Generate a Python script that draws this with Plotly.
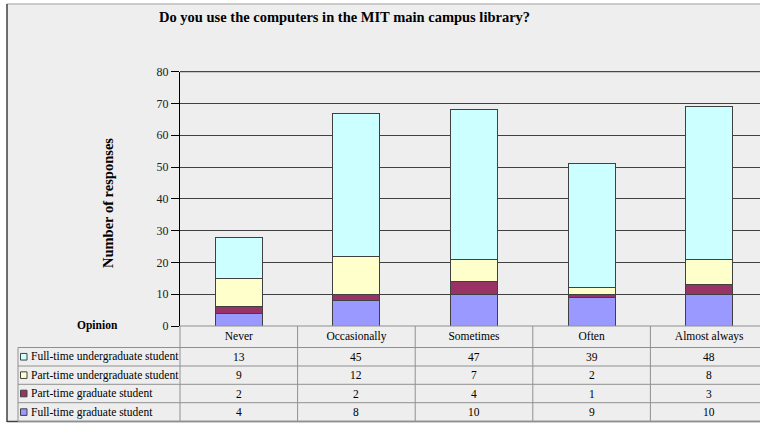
import plotly.graph_objects as go

categories = ["Never", "Occasionally", "Sometimes", "Often", "Almost always"]
ft_undergrad = [13, 45, 47, 39, 48]
pt_undergrad = [9, 12, 7, 2, 8]
pt_grad = [2, 2, 4, 1, 3]
ft_grad = [4, 8, 10, 9, 10]

series_names = ["Full-time undergraduate student", "Part-time undergraduate student",
                "Part-time graduate student", "Full-time graduate student"]
series_values = [ft_undergrad, pt_undergrad, pt_grad, ft_grad]
series_colors = ["#CCFFFF", "#FFFFCC", "#993366", "#9999FF"]

y_ticks = [0, 10, 20, 30, 40, 50, 60, 70, 80]

W, H = 760, 423
FONT = "Liberation Serif"
TS = 11.5


def px(x):
    return x / W


def py(y):
    return 1 - y / H


# geometry (pixels)
plot_left, plot_top, plot_bottom = 180, 71.7, 326
col_w = 117.6
row_lines = [326, 347.5, 366, 384.3, 402.7, 421.5]
table_left = 18
x_range = [-0.5, -0.5 + (W - plot_left) / col_w]
y_range = [0, 80]

fig = go.Figure()
# stack bottom to top
for name, vals, col in reversed(list(zip(series_names, series_values, series_colors))):
    fig.add_trace(go.Bar(
        x=list(range(len(categories))), y=vals, name=name,
        marker=dict(color=col, line=dict(color="#404040", width=1)),
        width=0.4, showlegend=False, hoverinfo="skip",
    ))

# category header row of the data table (on a hidden helper axis covering the header row)
fig.add_trace(go.Scatter(
    x=list(range(len(categories))), y=[0.5] * len(categories), yaxis="y2",
    mode="text", text=categories, textposition="middle center", cliponaxis=False,
    textfont=dict(family=FONT, size=TS, color="black"), showlegend=False, hoverinfo="skip",
))

shapes = []
annotations = []

# outer frame
shapes.append(dict(type="rect", xref="paper", yref="paper", x0=px(7), x1=px(W + 5), y0=py(421.5), y1=py(4),
                   fillcolor="#EEEEEE", line=dict(width=0), layer="below"))
shapes.append(dict(type="line", xref="paper", yref="paper", x0=px(7), x1=px(W + 5), y0=py(4), y1=py(4),
                   line=dict(color="#BBBBBB", width=1.5)))
shapes.append(dict(type="line", xref="paper", yref="paper", x0=px(7), x1=px(7), y0=py(4), y1=py(422),
                   line=dict(color="#404040", width=1.5)))
shapes.append(dict(type="line", xref="paper", yref="paper", x0=px(7), x1=px(W + 5), y0=py(421.5), y1=py(421.5),
                   line=dict(color="#404040", width=1.5)))

# top gridline at 80
shapes.append(dict(type="line", xref="paper", yref="paper", x0=px(plot_left), x1=1, y0=py(plot_top), y1=py(plot_top),
                   line=dict(color="#202020", width=1)))

tbl_color = "#909090"
# table horizontal lines
for i, yl in enumerate(row_lines):
    x0 = plot_left if i == 0 else table_left
    shapes.append(dict(type="line", xref="paper", yref="paper", x0=px(x0), x1=1, y0=py(yl), y1=py(yl),
                       line=dict(color=tbl_color, width=1)))
# table vertical lines
shapes.append(dict(type="line", xref="paper", yref="paper", x0=px(table_left), x1=px(table_left),
                   y0=py(row_lines[1]), y1=py(row_lines[-1]), line=dict(color=tbl_color, width=1)))
for i in range(len(categories)):
    xl = plot_left + i * col_w
    shapes.append(dict(type="line", xref="paper", yref="paper", x0=px(xl), x1=px(xl),
                       y0=py(row_lines[0]), y1=py(row_lines[-1]), line=dict(color=tbl_color, width=1)))

# rows
for r, (name, vals, col) in enumerate(zip(series_names, series_values, series_colors)):
    yc = (row_lines[r + 1] + row_lines[r + 2]) / 2
    shapes.append(dict(type="rect", xref="paper", yref="paper", x0=px(20.5), x1=px(27), y0=py(yc + 3.3),
                       y1=py(yc - 3.3), fillcolor=col, line=dict(color="#404040", width=1)))
    annotations.append(dict(text=name, xref="paper", yref="paper", x=px(28.5), y=py(yc), showarrow=False,
                            font=dict(family=FONT, size=TS, color="black"), xanchor="left", yanchor="middle"))
    for i, v in enumerate(vals):
        annotations.append(dict(text=str(v), xref="x", yref="paper", x=i, y=py(yc), showarrow=False,
                                font=dict(family=FONT, size=TS, color="black"),
                                xanchor="center", yanchor="middle"))

# title, axis title, "Opinion"
annotations.append(dict(text="<b>Do you use the computers in the MIT main campus library?</b>", xref="paper",
                        yref="paper", x=px(344), y=py(17), showarrow=False,
                        font=dict(family=FONT, size=14.5, color="black"), xanchor="center", yanchor="middle"))
annotations.append(dict(text="<b>Number of responses</b>", xref="paper", yref="paper", x=px(108), y=py(203),
                        showarrow=False, textangle=-90, font=dict(family=FONT, size=14.5, color="black"),
                        xanchor="center", yanchor="middle"))
annotations.append(dict(text="<b>Opinion</b>", xref="paper", yref="paper", x=px(97), y=py(325),
                        showarrow=False, font=dict(family=FONT, size=11.5, color="black"),
                        xanchor="center", yanchor="middle"))

fig.update_layout(
    template="none",
    width=W, height=H,
    margin=dict(l=0, r=0, t=0, b=0, pad=0, autoexpand=False),
    paper_bgcolor="white", plot_bgcolor="rgba(0,0,0,0)",
    barmode="stack", bargap=0.6,
    showlegend=False,
    shapes=shapes, annotations=annotations,
    xaxis=dict(domain=[px(plot_left), 1], range=x_range, showticklabels=False, showgrid=False,
               zeroline=False, showline=False, ticks="", automargin=False),
    yaxis=dict(domain=[py(plot_bottom), py(plot_top)], range=y_range, tickvals=y_ticks,
               showgrid=True, gridcolor="#404040", gridwidth=1, zeroline=False, automargin=False,
               showline=True, linecolor="black", linewidth=1, ticks="outside", ticklen=8,
               tickcolor="black", tickfont=dict(family=FONT, size=12, color="#202020")),
    yaxis2=dict(domain=[py(row_lines[1]), py(row_lines[0])], range=[0, 1], anchor="x",
                visible=False, automargin=False, fixedrange=True),
)

post = (
    "var d=document.getElementById('{plot_id}');"
    "d.style.position='fixed';d.style.top='0px';d.style.left='0px';"
    "document.documentElement.style.margin='0';document.body.style.margin='0';"
    "document.documentElement.style.overflow='hidden';document.body.style.overflow='hidden';"
)
fig.write_html("out.html", config={"displayModeBar": False}, post_script=post)
